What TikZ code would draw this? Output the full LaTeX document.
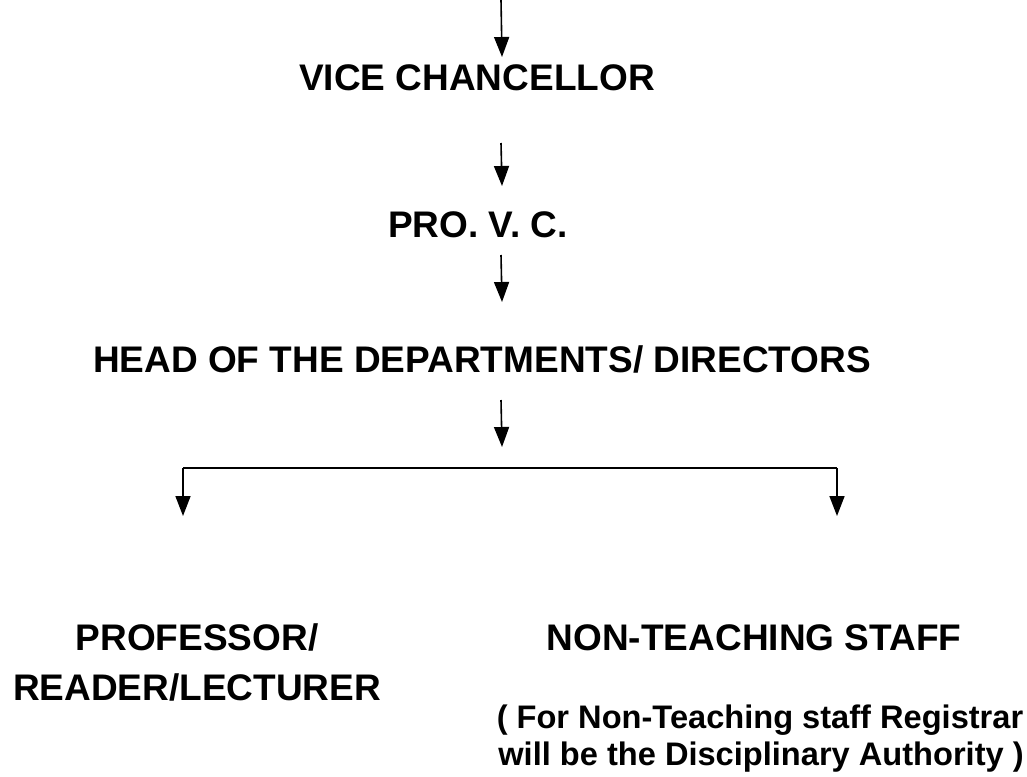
\documentclass[tikz,border=0pt]{standalone}
\usepackage{fontspec}
\setmainfont{Liberation Sans}
\usetikzlibrary{arrows.meta}
\tikzset{
  big/.style={font=\bfseries\fontsize{37}{48}\selectfont, inner sep=0pt, anchor=base, align=center},
  small/.style={font=\bfseries\fontsize{32.6}{37}\selectfont, inner sep=0pt, anchor=base, align=center},
  arr/.style={line width=1.6pt, -{Triangle[width=15pt,length=20pt]}},
  ln/.style={line width=1.6pt}
}
\begin{document}
\begin{tikzpicture}[x=1pt,y=-1pt]
\useasboundingbox (0,0) rectangle (1027,776);
\node[big] (vc) at (477,90) {VICE CHANCELLOR};
\node[big] (pro) at (478,237) {PRO. V. C.};
\node[big] (head) at (482,372) {HEAD OF THE DEPARTMENTS/ DIRECTORS};
\node[big] (prof) at (197,650) {PROFESSOR/};
\node[big] (read) at (197,700) {READER/LECTURER};
\node[big] (nts) at (754,650) {NON-TEACHING STAFF};
\node[small] (n1) at (760,728) {( For Non-Teaching staff Registrar};
\node[small] (n2) at (761,765) {will be the Disciplinary Authority )};
\coordinate (t0) at (501,0);
\coordinate (t1) at (502,57);
\coordinate (a1) at (501,143);
\coordinate (b1) at (502,186);
\coordinate (a2) at (501,255);
\coordinate (b2) at (502,302);
\coordinate (a3) at (501,400);
\coordinate (b3) at (502,447);
\coordinate (hl) at (183,468);
\coordinate (hr) at (837,468);
\coordinate (el) at (183,516);
\coordinate (er) at (837,516);
\draw[arr] (t0) -- (t1);
\draw[arr] (a1) -- (b1);
\draw[arr] (a2) -- (b2);
\draw[arr] (a3) -- (b3);
\draw[ln] (hl) -- (hr);
\draw[arr] (hl) -- (el);
\draw[arr] (hr) -- (er);
\end{tikzpicture}
\end{document}
